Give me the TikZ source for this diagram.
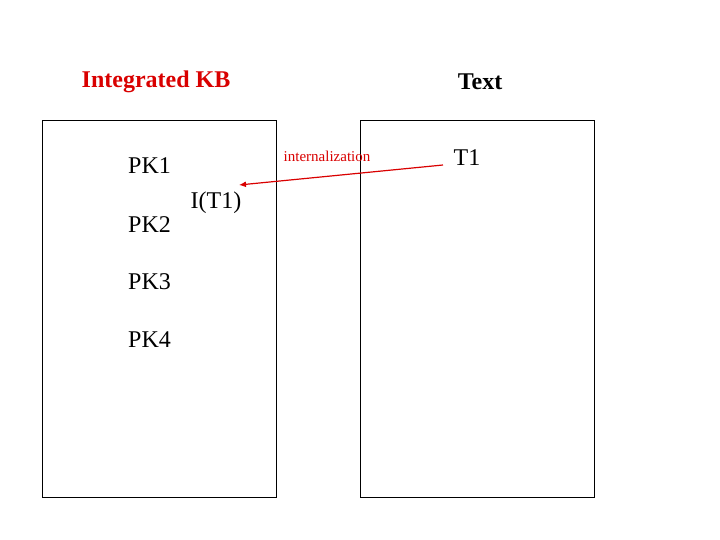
\documentclass[tikz,border=0pt]{standalone}
\usepackage{fontspec}
\usetikzlibrary{arrows.meta}
\setmainfont{Liberation Serif}
\begin{document}
\begin{tikzpicture}[x=1pt,y=-1pt,
  panel/.style={draw=black,line width=0.8pt},
  lbl/.style={inner sep=0pt,font=\fontsize{24}{26}\selectfont},
  pk/.style={lbl,anchor=west}]
\useasboundingbox (0,0) rectangle (720,540);
\draw[panel] (42,120) rectangle (276,497);
\draw[panel] (360,120) rectangle (594,497);
\node[lbl,text=red!85!black,font=\bfseries\fontsize{24}{26}\selectfont] (ikb) at (156,82) {Integrated KB};
\node[lbl,font=\bfseries\fontsize{24}{26}\selectfont] (txt) at (480,82) {Text};
\node[pk] (pk1) at (128,166) {PK1};
\node[pk] (pk2) at (128,225) {PK2};
\node[pk] (pk3) at (128,282) {PK3};
\node[pk] (pk4) at (128,340) {PK4};
\node[lbl] (it1) at (216,203) {I(T1)};
\node[lbl] (t1) at (467,158) {T1};
\node[inner sep=0pt,text=red!85!black,font=\fontsize{15}{17}\selectfont] (int) at (327,156) {internalization};
\coordinate (a) at (443,165);
\coordinate (b) at (239,185);
\draw[red!85!black,line width=1.2pt,-{Latex[length=7pt,width=6pt]}] (a) -- (b);
\end{tikzpicture}
\end{document}
